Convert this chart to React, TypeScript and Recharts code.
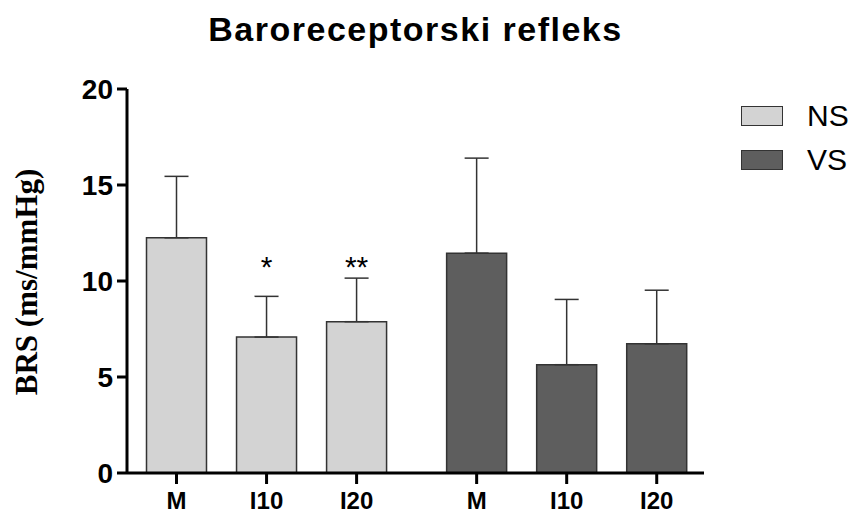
import { Bar, BarChart, Cell, ErrorBar, LabelList, Legend, XAxis, YAxis } from "recharts";

const categories = ["M", "I10", "I20"];
const groups = ["NS", "VS"];
const groupColors = ["#d3d3d3", "#5e5e5e"];

const nsMeans = [12.25, 7.08, 7.88];
const nsUpper = [15.45, 9.2, 10.15];
const nsSig = ["", "*", "**"];

const vsMeans = [11.45, 5.64, 6.73];
const vsUpper = [16.4, 9.04, 9.52];
const vsSig = ["", "", ""];

const yTicks = [0, 5, 10, 15, 20];

const GROUP_GAP = 1 / 3;
const SIG_LEVEL = 10.2;
const FONT = "'Liberation Sans', Arial, sans-serif";

const means = [nsMeans, vsMeans];
const uppers = [nsUpper, vsUpper];
const sigs = [nsSig, vsSig];

const rows = groups.flatMap((g, gi) =>
  categories.map((c, ci) => ({
    pos: gi * (categories.length + GROUP_GAP) + ci,
    label: c,
    group: gi,
    value: means[gi][ci],
    err: [0, uppers[gi][ci] - means[gi][ci]],
    sig: sigs[gi][ci],
  }))
);

const xTicks = rows.map((r) => r.pos);
const xDomain = [xTicks[0] - 0.55, xTicks[xTicks.length - 1] + 0.525];

function SigLabel(props: any) {
  const { x, width, y, height, index, value } = props;
  if (!value) return null;
  const v = rows[index].value;
  const unit = height / v;
  const ty = y + height - SIG_LEVEL * unit;
  return (
    <text x={x + width / 2} y={ty} textAnchor="middle" fontSize={30} fontFamily={FONT} fill="#000">
      {value}
    </text>
  );
}

function LegendBox() {
  return (
    <div style={{ fontFamily: FONT }}>
      {groups.map((g, i) => (
        <div key={g} style={{ display: "flex", alignItems: "center", height: 44 }}>
          <div
            style={{
              width: 40,
              height: 18,
              background: groupColors[i],
              border: "1.5px solid #333",
              marginRight: 24,
            }}
          />
          <span style={{ fontSize: 30, color: "#000", lineHeight: "30px" }}>{g}</span>
        </div>
      ))}
    </div>
  );
}

export default function App() {
  return (
    <div style={{ position: "absolute", left: 0, top: 0, width: 864, height: 516, background: "#fff" }}>
      <div
        style={{
          position: "absolute",
          left: 0,
          width: 831,
          top: 12,
          textAlign: "center",
          fontFamily: FONT,
          fontWeight: "bold",
          fontSize: 34,
          letterSpacing: 1.5,
          lineHeight: "34px",
          color: "#000",
        }}
      >
        Baroreceptorski refleks
      </div>
      <BarChart width={864} height={516} data={rows} margin={{ top: 89, right: 160, bottom: 0, left: 0 }}>
        <XAxis
          type="number"
          dataKey="pos"
          domain={xDomain}
          ticks={xTicks}
          interval={0}
          allowDataOverflow
          tickFormatter={(v: number) => rows.find((r) => Math.abs(r.pos - v) < 0.01)?.label ?? ""}
          height={43}
          axisLine={{ stroke: "#000", strokeWidth: 3 }}
          tickLine={{ stroke: "#000", strokeWidth: 3 }}
          tickSize={11}
          tickMargin={8}
          tick={{ fill: "#000", fontSize: 24, fontWeight: "bold", fontFamily: FONT }}
        />
        <YAxis
          domain={[0, 20]}
          ticks={yTicks}
          width={127}
          axisLine={{ stroke: "#000", strokeWidth: 3 }}
          tickLine={{ stroke: "#000", strokeWidth: 3 }}
          tickSize={10}
          tickMargin={4}
          tick={{ fill: "#000", fontSize: 28, fontWeight: "bold", fontFamily: FONT }}
          label={{
            content: () => (
              <text
                x={26}
                y={282}
                transform="rotate(-90 26 282)"
                textAnchor="middle"
                dominantBaseline="central"
                fontFamily="'Liberation Serif', 'Times New Roman', serif"
                fontWeight="bold"
                fontSize={31}
                fill="#000"
              >
                BRS (ms/mmHg)
              </text>
            ),
          }}
        />
        <Legend
          layout="horizontal"
          verticalAlign="middle"
          align="center"
          wrapperStyle={{ left: 741, top: 94, width: 120 }}
          content={() => <LegendBox />}
        />
        <Bar dataKey="value" barSize={60} stroke="#333" strokeWidth={1.5} isAnimationActive={false}>
          {rows.map((r, i) => (
            <Cell key={i} fill={groupColors[r.group]} />
          ))}
          <ErrorBar dataKey="err" width={12} stroke="#333" strokeWidth={1.5} direction="y" />
          <LabelList dataKey="sig" content={SigLabel} />
        </Bar>
      </BarChart>
    </div>
  );
}
